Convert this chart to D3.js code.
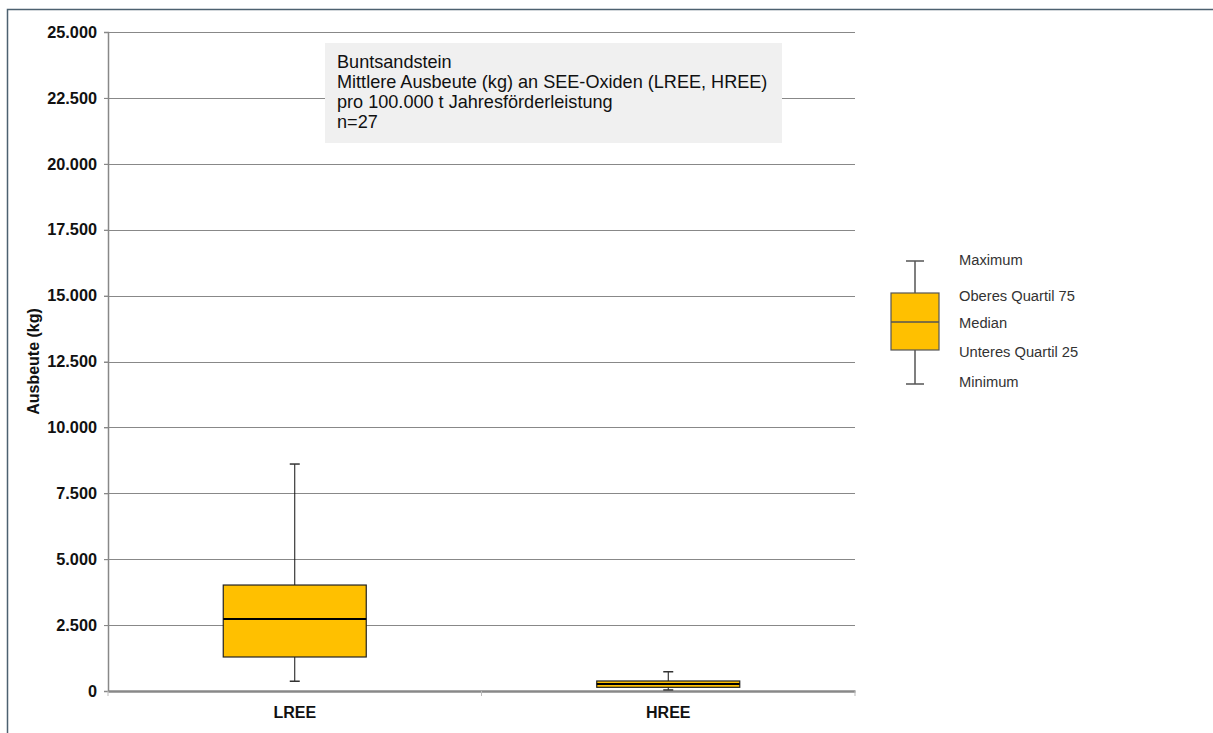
<!DOCTYPE html>
<html><head><meta charset="utf-8">
<script src="https://cdn.jsdelivr.net/npm/d3@7"></script>
<style>body{margin:0;background:#fff}svg{display:block}</style>
</head><body>
<script>
const categories = ["LREE", "HREE"];
const minValues = [370, 40];
const q1Values = [1290, 140];
const medianValues = [2730, 265];
const q3Values = [4020, 380];
const maxValues = [8610, 730];
const yTicks = [0, 2500, 5000, 7500, 10000, 12500, 15000, 17500, 20000, 22500, 25000];
const infoLines = ["Buntsandstein", "Mittlere Ausbeute (kg) an SEE-Oxiden (LREE, HREE)", "pro 100.000 t Jahresförderleistung", "n=27"];
const legendLabels = ["Maximum", "Oberes Quartil 75", "Median", "Unteres Quartil 25", "Minimum"];

(function () {
const W = 1213, H = 733;
const svg = d3.select("body").append("svg").attr("width", W).attr("height", H);
const font = "Liberation Sans, Arial, Helvetica, sans-serif";

// outer frame
svg.append("path").attr("d", `M7.5,${H} L7.5,9.5 L${W},9.5`).attr("fill", "none").attr("stroke", "#4d6170").attr("stroke-width", 1.5);

const pLeft = 108, pRight = 855, pTop = 32, pBottom = 691;
const y = d3.scaleLinear().domain([0, 25000]).range([pBottom, pTop]);
const x = d3.scaleBand().domain(categories).range([pLeft, pRight]);

// grid
svg.append("g").selectAll("line").data(yTicks.filter(d => d > 0)).join("line")
  .attr("x1", pLeft - 4).attr("x2", pRight).attr("y1", d => Math.round(y(d)) + 0.5).attr("y2", d => Math.round(y(d)) + 0.5)
  .attr("stroke", "#888").attr("stroke-width", 1);

// y axis
const yAxis = d3.axisLeft(y).tickValues(yTicks).tickSize(4).tickPadding(7)
  .tickFormat(d => d3.format(",")(d).replace(/,/g, "."));
const ya = svg.append("g").attr("transform", `translate(${pLeft},0)`).call(yAxis);
ya.select(".domain").attr("stroke", "#888").attr("stroke-width", 1.5);
ya.selectAll(".tick line").attr("stroke", "#888");
ya.selectAll("text").attr("font-family", font).attr("font-size", 16.3).attr("font-weight", "bold").attr("fill", "#111");

// x axis
const xAxis = d3.axisBottom(x).tickSize(0).tickPadding(16);
const xa = svg.append("g").attr("transform", `translate(0,${pBottom})`).call(xAxis);
xa.select(".domain").attr("stroke", "#888").attr("stroke-width", 2.5);
xa.selectAll("text").attr("font-family", font).attr("font-size", 16).attr("font-weight", "bold").attr("fill", "#111");
svg.append("g").selectAll("line").data([pLeft, x("HREE"), pRight]).join("line")
  .attr("x1", d => d).attr("x2", d => d).attr("y1", pBottom).attr("y2", pBottom + 5)
  .attr("stroke", "#bbb").attr("stroke-width", 1);

// y title
svg.append("text").attr("transform", `translate(33,${(pTop + pBottom) / 2}) rotate(-90)`)
  .attr("text-anchor", "middle").attr("dy", "0.35em").attr("font-family", font).attr("font-size", 16).attr("font-weight", "bold").attr("fill", "#111")
  .text("Ausbeute (kg)");

// boxes
const bw = 143, cap = 8;
const g = svg.append("g");
categories.forEach((c, i) => {
  const cx = x(c) + x.bandwidth() / 2;
  g.append("line").attr("x1", cx).attr("x2", cx).attr("y1", y(maxValues[i])).attr("y2", y(q3Values[i])).attr("stroke", "#111");
  g.append("line").attr("x1", cx).attr("x2", cx).attr("y1", y(q1Values[i])).attr("y2", y(minValues[i])).attr("stroke", "#111");
  [maxValues[i], minValues[i]].forEach(v => g.append("line").attr("x1", cx - cap / 2 - 1).attr("x2", cx + cap / 2 + 1)
    .attr("y1", y(v)).attr("y2", y(v)).attr("stroke", "#333").attr("stroke-width", 1.5));
  g.append("rect").attr("x", cx - bw / 2).attr("width", bw).attr("y", y(q3Values[i])).attr("height", y(q1Values[i]) - y(q3Values[i]))
    .attr("fill", "#FFC000").attr("stroke", "#222").attr("stroke-width", 1.2);
  g.append("line").attr("x1", cx - bw / 2).attr("x2", cx + bw / 2).attr("y1", y(medianValues[i])).attr("y2", y(medianValues[i]))
    .attr("stroke", "#000").attr("stroke-width", 2);
});

// info box
svg.append("rect").attr("x", 325).attr("y", 43).attr("width", 457).attr("height", 100).attr("fill", "#f0f0f0");
svg.append("g").selectAll("text").data(infoLines).join("text")
  .attr("x", 337).attr("y", (d, i) => 67.5 + i * 20).attr("font-family", font).attr("font-size", 18.1).attr("fill", "#111")
  .text(d => d);

// legend
const lx = 915, lw = 48;
const lg = svg.append("g");
const legY = [261, 293, 322, 350, 384];
lg.append("line").attr("x1", lx).attr("x2", lx).attr("y1", legY[0]).attr("y2", legY[4]).attr("stroke", "#555").attr("stroke-width", 1.5);
[legY[0], legY[4]].forEach(v => lg.append("line").attr("x1", lx - 9).attr("x2", lx + 9).attr("y1", v).attr("y2", v).attr("stroke", "#555").attr("stroke-width", 1.5));
lg.append("rect").attr("x", lx - lw / 2).attr("y", legY[1]).attr("width", lw).attr("height", legY[3] - legY[1])
  .attr("fill", "#FFC000").attr("stroke", "#555").attr("stroke-width", 1.2);
lg.append("line").attr("x1", lx - lw / 2).attr("x2", lx + lw / 2).attr("y1", legY[2]).attr("y2", legY[2]).attr("stroke", "#555").attr("stroke-width", 1.5);
const labY = [260, 296, 323, 352, 382];
lg.selectAll("text").data(legendLabels).join("text")
  .attr("x", 959).attr("y", (d, i) => labY[i]).attr("dy", "0.35em").attr("font-family", font).attr("font-size", 14.7).attr("fill", "#333")
  .text(d => d);
})();
</script>
</body></html>
